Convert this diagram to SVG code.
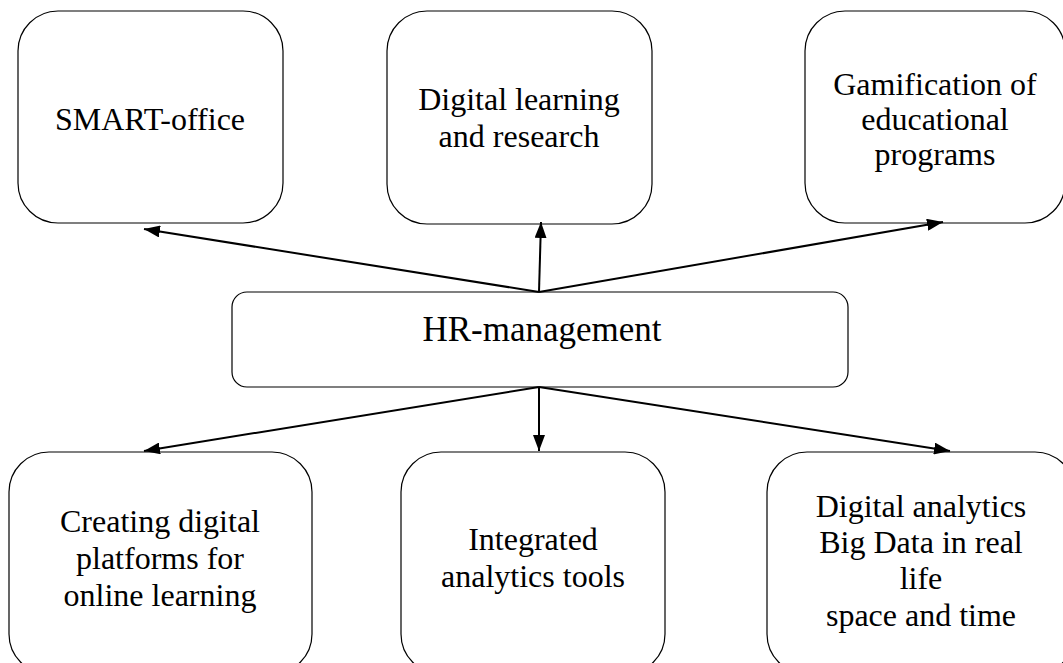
<svg xmlns="http://www.w3.org/2000/svg" width="1063" height="663" viewBox="0 0 1063 663">
<style>
.box{fill:#fff;stroke:#000;stroke-width:1.2}
text{font-family:'Liberation Serif','Times New Roman',serif;font-size:32px;fill:#000;text-anchor:middle}
text.big{font-size:35px}
.c{stroke:#000;stroke-width:2;fill:none;marker-end:url(#ah)}
</style>
<defs>
<marker id="ah" viewBox="0 0 16 12" refX="16" refY="6" markerWidth="16" markerHeight="12" markerUnits="userSpaceOnUse" orient="auto">
<path d="M0,0 L16,6 L0,12 Z" fill="#000"/>
</marker>
</defs>
<g id="n1"><rect class="box" x="18" y="11" width="265" height="212" rx="40"/><text x="150" y="130">SMART-office</text></g>
<g id="n2"><rect class="box" x="387" y="11" width="265" height="213" rx="40"/><text x="519" y="110">Digital learning</text><text x="519" y="147">and research</text></g>
<g id="n3"><rect class="box" x="805" y="11" width="260" height="212" rx="40"/><text x="935" y="95">Gamification of</text><text x="935" y="130">educational</text><text x="935" y="165">programs</text></g>
<g id="n0"><rect class="box" x="232" y="292" width="616" height="95" rx="15"/><text class="big" x="542" y="341">HR-management</text></g>
<g id="n4"><rect class="box" x="9" y="452" width="303" height="222" rx="40"/><text x="160" y="532">Creating digital</text><text x="160" y="569">platforms for</text><text x="160" y="606">online learning</text></g>
<g id="n5"><rect class="box" x="401" y="452" width="264" height="222" rx="40"/><text x="533" y="550">Integrated</text><text x="533" y="587">analytics tools</text></g>
<g id="n6"><rect class="box" x="767" y="452" width="308" height="222" rx="40"/><text x="921" y="517">Digital analytics</text><text x="921" y="553">Big Data in real</text><text x="921" y="589">life</text><text x="921" y="626">space and time</text></g>
<g id="connectors">
<path class="c" d="M539,292 L144,229"/>
<path class="c" d="M539,292 L541,222"/>
<path class="c" d="M539,292 L943,222"/>
<path class="c" d="M539,387 L144,451"/>
<path class="c" d="M539,387 L539,451"/>
<path class="c" d="M539,387 L950,451"/>
</g>
</svg>
